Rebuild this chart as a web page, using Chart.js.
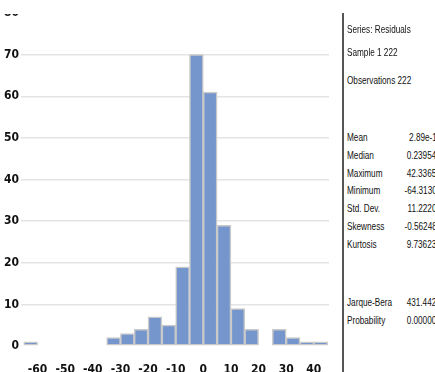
<!DOCTYPE html>
<html>
<head>
<meta charset="utf-8">
<script src="https://cdn.jsdelivr.net/npm/chart.js@4.4.1/dist/chart.umd.min.js"></script>
<style>
	body { margin: 0; width: 435px; height: 372px; overflow: hidden; background: #fff; position: relative; }
	#chartBox { position: absolute; left: 0; top: 0; width: 340px; height: 372px; }
	#topMask { position: absolute; left: 0; top: 0; width: 340px; height: 14px; background: #fff; }
	#divider { position: absolute; left: 342px; top: 13px; width: 2px; height: 359px; background: #555; }
	.stat { position: absolute; font-family: 'Liberation Sans', Arial, sans-serif; font-size: 10.5px; color: #111; white-space: nowrap; line-height: 12px; }
	.lbl { left: 347px; transform: scaleX(0.78); transform-origin: left center; }
	.val { right: -6px; transform: scaleX(0.78); transform-origin: right center; text-align: right; }
</style>
</head>
<body>
<div id="chartBox"><canvas id="histChart"></canvas></div>
<div id="topMask"></div>
<div id="divider"></div>
<div id="stats"></div>
<script>
// ===== DATA =====
const binStarts = [-65, -60, -55, -50, -45, -40, -35, -30, -25, -20, -15, -10, -5, 0, 5, 10, 15, 20, 25, 30, 35, 40];
const counts = [1, 0, 0, 0, 0, 0, 2, 3, 4, 7, 5, 19, 70, 61, 29, 9, 4, 0, 4, 2, 1, 1];
const binWidth = 5;
const xTicks = [-60, -50, -40, -30, -20, -10, 0, 10, 20, 30, 40];
const yTicks = [0, 10, 20, 30, 40, 50, 60, 70, 80];

const headerLines = ['Series: Residuals', 'Sample 1 222', 'Observations 222'];
const statNames = ['Mean', 'Median', 'Maximum', 'Minimum', 'Std. Dev.', 'Skewness', 'Kurtosis'];
const statValues = ['2.89e-15', '0.239540', '42.33657', '-64.31308', '11.22204', '-0.562487', '9.736238'];
const testNames = ['Jarque-Bera', 'Probability'];
const testValues = ['431.4425', '0.000000'];

// ===== STATS PANEL =====
const statsBox = document.getElementById('stats');
function addText(text, cls, top) {
	const d = document.createElement('div');
	d.className = 'stat ' + cls;
	d.style.top = top + 'px';
	d.textContent = text;
	statsBox.appendChild(d);
}
const headerTops = [23, 46, 74];
headerLines.forEach((t, i) => addText(t, 'lbl', headerTops[i]));
statNames.forEach((t, i) => {
	const top = 131 + i * 17.8;
	addText(t, 'lbl', top);
	addText(statValues[i], 'val', top);
});
testNames.forEach((t, i) => {
	const top = 296 + i * 18;
	addText(t, 'lbl', top);
	addText(testValues[i], 'val', top);
});

// ===== CHART =====
const ctx = document.getElementById('histChart').getContext('2d');
const points = binStarts.map((s, i) => ({ x: s + binWidth / 2, y: counts[i] }));
const tickFont = { family: "'Liberation Sans Narrow', 'DejaVu Sans Condensed', 'Liberation Sans', sans-serif", size: 12, weight: 'bold' };

new Chart(ctx, {
	type: 'bar',
	data: {
		datasets: [{
			data: points,
			backgroundColor: '#7596cd',
			borderColor: '#c9c9c9',
			borderWidth: 1.5,
			borderSkipped: false,
			barPercentage: 1,
			categoryPercentage: 1,
			grouped: false
		}]
	},
	options: {
		responsive: true,
		maintainAspectRatio: false,
		animation: false,
		layout: { padding: { top: 13, right: 11, left: 0, bottom: 0 } },
		plugins: { legend: { display: false }, tooltip: { enabled: false } },
		scales: {
			x: {
				type: 'linear',
				offset: false,
				min: -66,
				max: 45.5,
				grid: { display: false, offset: false },
				border: { display: false },
				afterBuildTicks: (scale) => { scale.ticks = xTicks.map(v => ({ value: v })); },
				afterFit: (scale) => { scale.height = 26; },
				ticks: { color: '#111', font: tickFont, padding: 9, maxRotation: 0, autoSkip: false }
			},
			y: {
				min: 0,
				max: 80,
				grid: {
					drawTicks: false,
					color: (c) => c.tick.value === 0 ? 'rgba(0,0,0,0)' : '#e4e4e4',
					lineWidth: 1.5
				},
				border: { display: false },
				afterBuildTicks: (scale) => { scale.ticks = yTicks.map(v => ({ value: v })); },
				afterFit: (scale) => { scale.width = 21; },
				ticks: { color: '#111', font: tickFont, padding: 2 }
			}
		}
	}
});
</script>
</body>
</html>
